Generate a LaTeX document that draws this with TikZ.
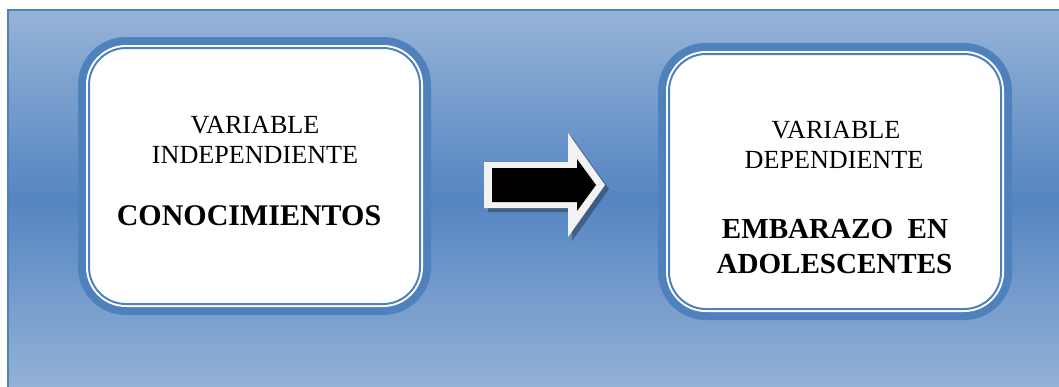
\documentclass[tikz,border=0pt]{standalone}
\usepackage{fontspec}
\setmainfont{Liberation Serif}
\definecolor{bblue}{HTML}{4F81BD}
\definecolor{bglight}{HTML}{95B3D7}
\definecolor{bgmid}{HTML}{5585C1}
\tikzset{
  varbox/.style={rectangle, rounded corners=37*0.75pt,
    minimum width=331*0.75pt, minimum height=256*0.75pt,
    inner sep=0pt, outer sep=0pt, fill=white, draw=bblue, line width=2*0.75pt,
    preaction={draw=bblue, line width=22*0.75pt},
    preaction={draw=white, line width=6*0.75pt}},
  regtext/.style={anchor=base, inner sep=0pt, font=\fontsize{19.6pt}{22pt}\selectfont},
  boldtext/.style={anchor=base, inner sep=0pt, font=\fontsize{#1}{26pt}\selectfont\bfseries},
  bgframe/.style={draw=bblue, line width=1.6*0.75pt},
}
\begin{document}
\begin{tikzpicture}[x=0.75pt, y=-0.75pt]
\useasboundingbox (0,0) rectangle (1059,386);
% background
\shade[top color=bglight, bottom color=bglight, middle color=bgmid] (8,10) rectangle (1080,392);
\draw[bgframe] (8,392) -- (8,10) -- (1080,10);
% boxes
\node[varbox] (left) at (254.5,176) {};
\node[varbox, minimum width=332*0.75pt, minimum height=255*0.75pt] (right) at (835,181.5) {};
% left texts
\node[regtext] (l1) at (255,133) {VARIABLE};
\node[regtext] (l2) at (255,163) {INDEPENDIENTE};
\node[boldtext=22.5pt] (l3) at (249,225) {CONOCIMIENTOS};
% right texts
\node[regtext] (r1) at (836,138) {VARIABLE};
\node[regtext] (r2) at (834,168) {DEPENDIENTE};
\node[boldtext=21.8pt] (r3) at (835,238) {EMBARAZO\ \ EN};
\node[boldtext=21.8pt] (r4) at (834.5,273) {ADOLESCENTES};
% arrow
\fill[black, opacity=0.3] (488,166) -- (572,166) -- (572,137) -- (609,189) -- (572,241) -- (572,212) -- (488,212) -- cycle;
\fill[white!95!black] (484,162) -- (568,162) -- (568,133) -- (605,185) -- (568,237) -- (568,208) -- (484,208) -- cycle;
\fill[black] (492,168) -- (577,168) -- (577,159) -- (596,185) -- (577,211) -- (577,202) -- (492,202) -- cycle;
\end{tikzpicture}
\end{document}
